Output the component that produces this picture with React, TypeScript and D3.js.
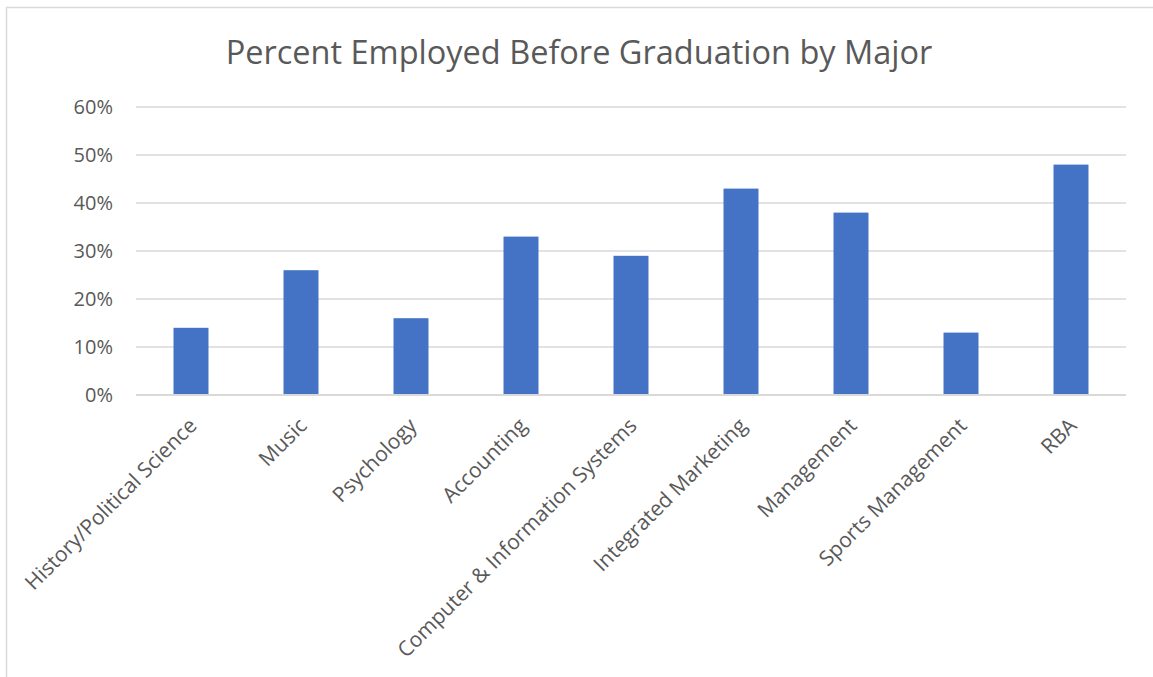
import React from "react";
import * as d3 from "d3";

const categories = [
  "History/Political Science",
  "Music",
  "Psychology",
  "Accounting",
  "Computer & Information Systems",
  "Integrated Marketing",
  "Management",
  "Sports Management",
  "RBA",
];
const values = [0.14, 0.26, 0.16, 0.33, 0.29, 0.43, 0.38, 0.13, 0.48];
const yTicks = [0, 0.1, 0.2, 0.3, 0.4, 0.5, 0.6];
const title = "Percent Employed Before Graduation by Major";

const W = 1153;
const H = 677;
const plot = { left: 136, right: 1126, top: 107, bottom: 395 };
const FONT = "'Open Sans', 'Noto Sans', sans-serif";
const TEXT = "#595959";
const GRID = "#D9D9D9";
const BAR = "#4472C4";

export default function App() {
  const x = d3
    .scaleBand<string>()
    .domain(categories)
    .range([plot.left, plot.right])
    .paddingInner(0.682)
    .paddingOuter(0.341);
  const y = d3.scaleLinear().domain([0, 0.6]).range([plot.bottom, plot.top]);
  const fmt = d3.format(".0%");

  return (
    <svg
      width={W}
      height={H}
      style={{ position: "absolute", left: 0, top: 0 }}
      fontFamily={FONT}
    >
      <rect x={0} y={0} width={W} height={H} fill="#fff" />
      <rect
        x={6.5}
        y={7.5}
        width={W}
        height={H}
        fill="none"
        stroke={GRID}
        strokeWidth={1.5}
      />
      <text
        x={579}
        y={64}
        textAnchor="middle"
        fontSize={32.5}
        fill={TEXT}
      >
        {title}
      </text>
      {yTicks.map((t) => (
        <g key={t}>
          <line
            x1={plot.left}
            x2={plot.right}
            y1={y(t)}
            y2={y(t)}
            stroke={GRID}
            strokeWidth={1.5}
          />
          <text
            x={113}
            y={y(t)}
            dy="0.36em"
            textAnchor="end"
            fontSize={20}
            fill={TEXT}
          >
            {fmt(t)}
          </text>
        </g>
      ))}
      {categories.map((c, i) => (
        <rect
          key={c}
          x={x(c)}
          y={y(values[i])}
          width={x.bandwidth()}
          height={y(0) - y(values[i])}
          fill={BAR}
        />
      ))}
      <line
        x1={plot.left}
        x2={plot.right}
        y1={y(0)}
        y2={y(0)}
        stroke={GRID}
        strokeWidth={2}
      />
      {categories.map((c) => {
        const cx = (x(c) as number) + x.bandwidth() / 2;
        return (
          <text
            key={c}
            transform={`translate(${cx + 7},${y(0) + 32}) rotate(-45)`}
            textAnchor="end"
            fontSize={21}
            fill={TEXT}
          >
            {c}
          </text>
        );
      })}
    </svg>
  );
}
